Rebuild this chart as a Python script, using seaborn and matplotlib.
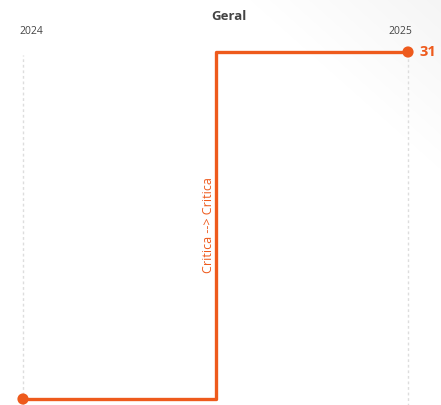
import numpy as np
import pandas as pd
import matplotlib
matplotlib.use("Agg")
import matplotlib.pyplot as plt
import seaborn as sns

years = ["2024", "2025"]
values = [29, 31]
transition_label = "Critica --> Critica"
end_label = "31"
title = "Geral"

ORANGE = "#EE5A1C"

sns.set_theme(style="white")
plt.rcParams['font.family'] = ['Open Sans', 'DejaVu Sans']

W, H = 441, 405
fig = plt.figure(figsize=(W / 100, H / 100), dpi=100)
fig.patch.set_facecolor("white")

# subtle background gradient in top-right
bg = fig.add_axes([0, 0, 1, 1], zorder=-10)
yy, xx = np.mgrid[0:H, 0:W]
d = (xx - 250) * 0.8 - yy * 0.9
g = np.clip(d / 200.0, 0, 1)
img = 1.0 - 0.05 * g
bg.imshow(np.dstack([img, img, img]), extent=[0, 1, 0, 1], aspect="auto", origin="upper")
bg.axis("off")

ax = fig.add_axes([23 / W, 6 / H, (408 - 23) / W, (399 - 52) / H])
ax.set_facecolor("none")
df = pd.DataFrame({"x": np.arange(len(years)), "y": values})

span = values[1] - values[0]
for xv in df["x"]:
    ax.plot([xv, xv], [values[0] - 0.02 * span, values[1] - 0.01 * span],
            color="#DDDDDD", lw=1, ls=(0, (2, 2)), zorder=0, clip_on=False)

sns.lineplot(data=df, x="x", y="y", ax=ax, color=ORANGE, lw=2.4, drawstyle="steps-mid", zorder=3)
for ln in ax.lines:
    ln.set_clip_on(False)
sns.scatterplot(data=df, x="x", y="y", ax=ax, color=ORANGE, s=65, edgecolor="none", zorder=4, clip_on=False)

ax.set_xlim(0, 1)
ax.set_ylim(values[0], values[1])
for s in ax.spines.values():
    s.set_visible(False)
ax.set_xticks([]); ax.set_yticks([])
ax.set_xlabel(""); ax.set_ylabel("")

ax.text(0.5, 0.5, transition_label, rotation=90, color=ORANGE, fontsize=9,
        ha="right", va="center", transform=ax.transAxes)
ax.annotate(end_label, xy=(1, values[1]), xytext=(8, 0), textcoords="offset points",
            color=ORANGE, fontsize=10.5, fontweight="bold", ha="left", va="center", annotation_clip=False)

fig.text(31 / W, 1 - 31 / H, years[0], ha="center", va="center", fontsize=7.5, color="#444444")
fig.text(400 / W, 1 - 31 / H, years[1], ha="center", va="center", fontsize=7.5, color="#444444")
fig.text(229 / W, 1 - 16 / H, title, ha="center", va="center", fontsize=9.5, fontweight="bold", color="#444444")

fig.savefig("out.png", dpi=100)
